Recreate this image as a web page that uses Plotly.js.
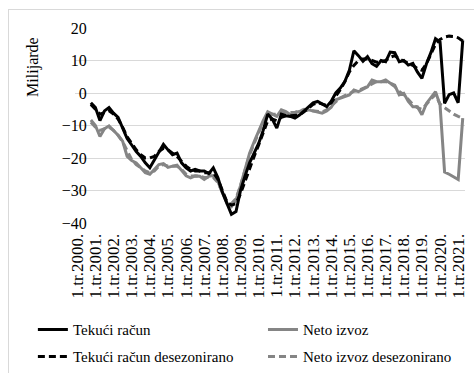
<!DOCTYPE html>
<html>
<head>
<meta charset="utf-8">
<script src="https://cdn.plot.ly/plotly-3.0.1.min.js"></script>
<style>
html, body { margin: 0; padding: 0; background: #fff; overflow: hidden; width: 474px; height: 373px; }
#chart { position: absolute; left: 0; top: 0; width: 474px; height: 373px; }
#frame { position: absolute; left: 8px; top: 9px; width: 520px; height: 420px; border: 1px solid #d9d9d9; pointer-events: none; }
</style>
</head>
<body>
<div id="chart"></div>
<div id="frame"></div>
<script>
// Quarters 2000 Q1 .. 2021 Q2
const years = [2000,2001,2002,2003,2004,2005,2006,2007,2008,2009,2010,2011,2012,2013,2014,2015,2016,2017,2018,2019,2020,2021];
const quarterPrefixes = ["1.tr.", "2.tr.", "3.tr.", "4.tr."];
const categories = [];
years.forEach(y => quarterPrefixes.forEach(q => categories.push(q + y + ".")));
const cats = categories.slice(0, 86);
const tickLabels = years.map(y => "1.tr." + y + ".");

// Tekući račun (bn)
const tekuciRacun = [null, null, null,
  -3, -4.5, -8.5, -5.5, -4.5, -6.2, -7.5, -10.5, -14, -16,
  -18, -19.5, -21.5, -23, -20.5, -18, -15.8, -17.5, -19, -18.5,
  -21.5, -23, -24, -23.5, -24, -24, -24.8, -23, -26, -30.5,
  -34, -37.3, -36.5, -30, -25.5, -21.5, -18.5, -15.5, -11.5, -6.5,
  -8, -10.8, -6.5, -7, -7.2, -7.7, -6.8, -5.5, -4, -3,
  -2.6, -3.5, -4.2, -2.5, 0, 1.5, 3.5, 7, 13, 11.5,
  9.8, 11.2, 9, 8.2, 10, 9.6, 12.6, 12.4, 9.6, 10,
  8.6, 9.1, 6.5, 4.5, 9, 12.5, 16.7, 15.7, -3.2, -0.5,
  0, -3, 16.2];

// Neto izvoz (bn)
const netoIzvoz = [null, null, null,
  -8.3, -10, -13.4, -11, -10.1, -11.5, -13, -14.8, -19.5, -20.8,
  -21.5, -23, -24.5, -25, -23.5, -22, -21.7, -22.9, -22.5, -22.2,
  -23.8, -25.5, -26.1, -25.5, -25.6, -26.6, -25.6, -25.4, -27.2, -30.5,
  -34, -35, -33, -28.5, -23.5, -18.5, -15, -11.5, -8.5, -5.8,
  -6.5, -7.2, -5.2, -5.7, -6.7, -6, -5.7, -5, -5.2, -5.5,
  -6, -6.2, -5.5, -4.4, -2.1, -1.6, -1, -0.6, 0.9, 0.4,
  1.2, 1.9, 4, 3.5, 3.5, 4, 3, 2.4, -0.6, -0.1,
  -2.6, -4.2, -4.2, -6.7, -3.2, -1.5, 0.4, -3.7, -24.3, -25,
  -25.8, -26.6, -7.7];

// Tekući račun desezonirano (bn)
const tekuciRacunDesez = [null, null, null,
  -3.5, -5, -6.5, -6, -5.5, -6.5, -8, -10.5, -13.5, -15.5,
  -17.5, -19, -20, -20, -19.5, -18, -17, -17.5, -18.5, -19.5,
  -21, -22.5, -23.5, -24, -24, -24.5, -24.5, -24.5, -26.5, -30,
  -33.5, -34.5, -34, -31, -27, -23, -19.5, -16, -12, -8.5,
  -8, -8.5, -7.5, -7, -7, -7, -6.8, -5.8, -4.5, -3.5,
  -3, -3.3, -3.8, -3, -1, 1, 3.5, 6.5, 8.5, 10,
  10.5, 10.5, 10, 9.5, 9.5, 10, 11, 11.5, 10.5, 9.8,
  9, 8.5, 7.5, 7, 9, 12, 15, 16.5, 17.2, 17.5,
  17.4, 17, 16];

// Neto izvoz desezonirano (bn)
const netoIzvozDesez = [null, null, null,
  -9, -10.5, -11.5, -11, -10.5, -11.5, -13, -15, -18, -20.5,
  -22, -23, -24, -24.5, -24, -22.5, -22, -22.5, -22.5, -22.5,
  -23.5, -25, -25.5, -25.5, -25.5, -26, -26, -26, -27.5, -30.5,
  -33.5, -34, -32.5, -28.5, -24, -19, -15.5, -12, -9, -6.5,
  -6.5, -6.5, -6, -6, -6.2, -6, -5.5, -5.2, -5.3, -5.5,
  -5.8, -5.8, -5.2, -4, -2.5, -1.5, -0.8, -0.2, 0.5, 0.8,
  1.3, 2, 2.8, 3.5, 3.5, 3.5, 3, 2, 0.5, -0.5,
  -2, -3.5, -4.5, -5, -3.5, -1.8, -0.5, -3.4, -4.5, -5.5,
  -6.5, -7.2, -7.8];

const FONT = "Liberation Serif";
const BLACK = "#000000";
const GRAY = "#858585";

const traces = [
  { name: "Neto izvoz desezonirano", y: netoIzvozDesez, color: GRAY, dash: "7px,4px", legend: "legend4" },
  { name: "Neto izvoz", y: netoIzvoz, color: GRAY, dash: "solid", legend: "legend2" },
  { name: "Tekući račun desezonirano", y: tekuciRacunDesez, color: BLACK, dash: "7px,4px", legend: "legend3" },
  { name: "Tekući račun", y: tekuciRacun, color: BLACK, dash: "solid", legend: "legend" }
].map(t => ({
  type: "scatter",
  mode: "lines",
  x: cats,
  y: t.y,
  name: t.name,
  legend: t.legend,
  line: { color: t.color, width: 3, dash: t.dash },
  connectgaps: false,
  hoverinfo: "skip"
}));

const legendBase = {
  orientation: "v",
  xanchor: "left",
  yanchor: "middle",
  font: { family: FONT, size: 15, color: "#000" },
  bgcolor: "rgba(0,0,0,0)",
  itemwidth: 30
};

const layout = {
  width: 474,
  height: 373,
  margin: { l: 75, r: 9, t: 28, b: 150, autoexpand: false },
  paper_bgcolor: "rgba(0,0,0,0)",
  plot_bgcolor: "rgba(0,0,0,0)",
  font: { family: FONT, size: 15, color: "#000" },
  showlegend: true,
  xaxis: {
    type: "category",
    categoryorder: "array",
    categoryarray: cats,
    range: [-0.5, 85.5],
    tickmode: "array",
    tickvals: tickLabels,
    ticktext: tickLabels,
    tickangle: -90,
    tickfont: { family: FONT, size: 17, color: "#000" },
    showgrid: false,
    zeroline: false,
    showline: false,
    ticks: "outside",
    ticklen: 3,
    tickcolor: "rgba(0,0,0,0)",
    automargin: false
  },
  yaxis: {
    range: [-40, 20],
    tickmode: "linear",
    tick0: -40,
    dtick: 10,
    anchor: "free",
    position: 0.02,
    showgrid: true,
    gridcolor: "#d9d9d9",
    gridwidth: 1,
    zeroline: false,
    showline: false,
    ticks: "",
    ticklabelstandoff: -4,
    automargin: false,
    tickfont: { family: FONT, size: 16, color: "#000" }
  },
  legend: Object.assign({}, legendBase, { x: -0.108, y: -0.548 }),
  legend2: Object.assign({}, legendBase, { x: 0.482, y: -0.548 }),
  legend3: Object.assign({}, legendBase, { x: -0.108, y: -0.686 }),
  legend4: Object.assign({}, legendBase, { x: 0.482, y: -0.686 }),
  annotations: [{
    text: "Milijarde",
    xref: "paper", yref: "paper",
    x: -0.108, y: 0.80,
    xanchor: "center", yanchor: "middle",
    textangle: -90,
    showarrow: false,
    font: { family: FONT, size: 16, color: "#000" }
  }]
};

Plotly.newPlot("chart", traces, layout, { staticPlot: true, displayModeBar: false });
</script>
</body>
</html>
